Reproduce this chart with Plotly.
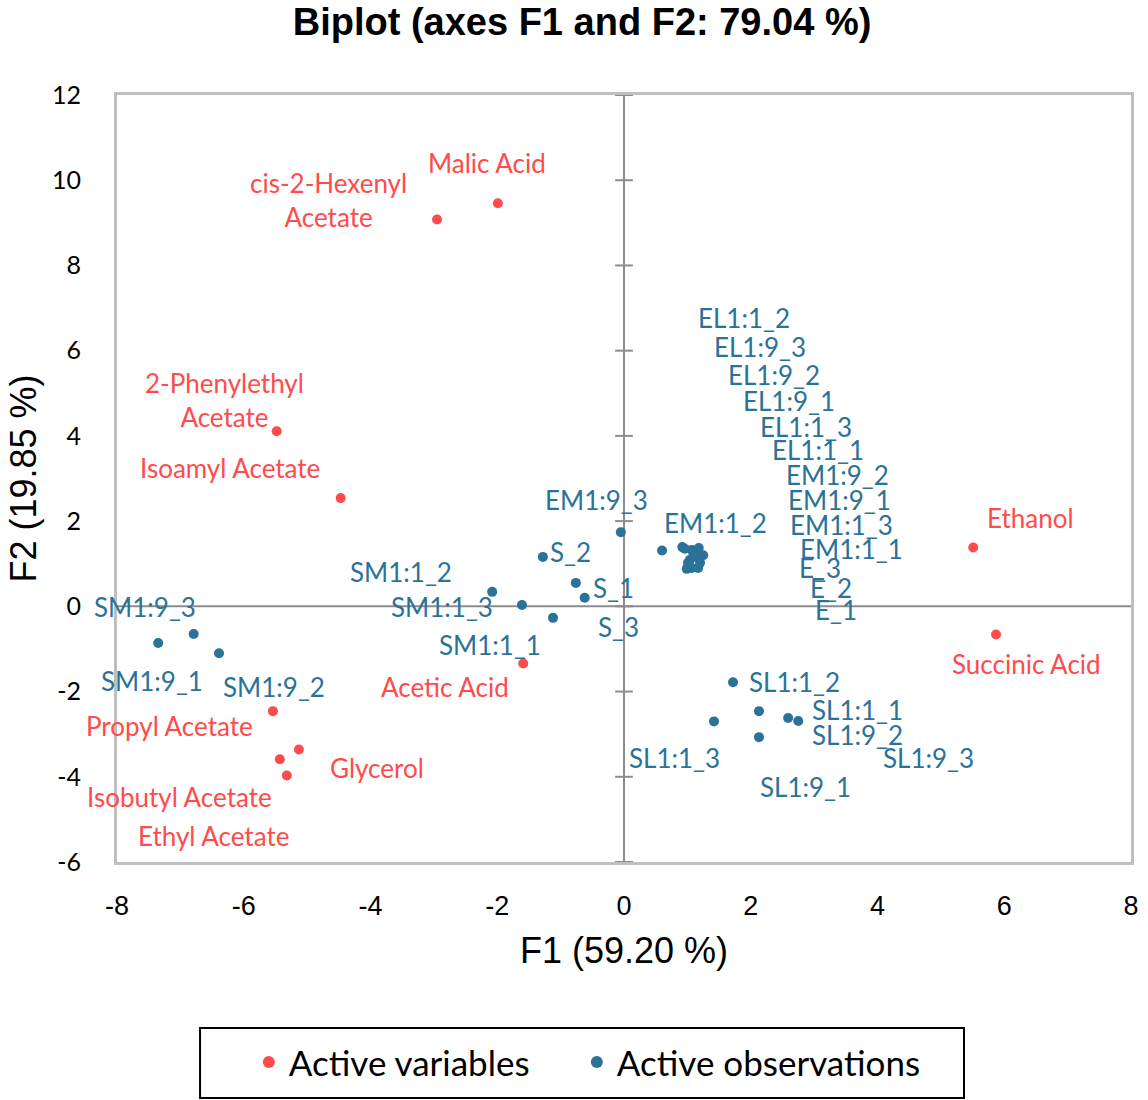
import plotly.graph_objects as go

# Active variables (red)
var_names = ["Malic Acid", "cis-2-Hexenyl<br>Acetate", "2-Phenylethyl<br>Acetate",
             "Isoamyl Acetate", "Ethanol", "Succinic Acid", "Acetic Acid",
             "Propyl Acetate", "Glycerol", "Isobutyl Acetate", "Ethyl Acetate"]
var_f1 = [-1.99, -2.95, -5.48, -4.47, 5.51, 5.87, -1.59, -5.54, -5.13, -5.43, -5.32]
var_f2 = [9.46, 9.08, 4.11, 2.54, 1.38, -0.66, -1.34, -2.46, -3.36, -3.59, -3.97]

# Active observations (blue)
obs_names = ["SM1:9_3", "SM1:9_1", "SM1:9_2", "SM1:1_2", "SM1:1_3", "SM1:1_1",
             "S_2", "S_1", "S_3", "EM1:9_3", "EM1:1_2",
             "EL1:1_2", "EL1:9_3", "EL1:9_2", "EL1:9_1", "EL1:1_3", "EL1:1_1",
             "EM1:9_2", "EM1:9_1", "EM1:1_3", "EM1:1_1", "E_3", "E_2", "E_1",
             "SL1:1_2", "SL1:1_1", "SL1:9_2", "SL1:9_3", "SL1:1_3", "SL1:9_1"]
obs_f1 = [-6.79, -7.35, -6.39, -2.08, -1.61, -1.12,
          -1.28, -0.76, -0.62, -0.05, 0.60,
          0.92, 1.18, 0.96, 1.07, 1.15, 1.25,
          1.09, 1.04, 1.01, 1.20, 1.07, 1.17, 0.99,
          1.72, 2.59, 2.75, 2.13, 1.42, 2.13]
obs_f2 = [-0.65, -0.86, -1.10, 0.34, 0.03, -0.27,
          1.16, 0.55, 0.20, 1.74, 1.31,
          1.39, 1.37, 1.35, 1.32, 1.23, 1.20,
          1.16, 1.09, 1.02, 1.02, 0.90, 0.90, 0.88,
          -1.78, -2.62, -2.69, -2.46, -2.70, -3.07]

y_ticks = [-6, -4, -2, 0, 2, 4, 6, 8, 10, 12]
x_ticks = [-8, -6, -4, -2, 0, 2, 4, 6, 8]

# label placement offsets in pixels (dx right, dy up) relative to each point
var_label_shift = [(-11, 40), (-109, 19), (-52, 31), (-111, 30), (57, 30), (30, -30),
                   (-78, -24), (-103, -15), (78, -18), (-100, -38), (-73, -60)]
obs_label_shift = [(-49, 27), (-6, -38), (55, -34), (-91, 20), (-80, -2), (-63, -27),
                   (28, 5), (38, -5), (34, -29), (-24, 32), (53, 28),
                   (62, 229), (61, 201), (89, 174), (97, 149), (109, 127), (115, 105),
                   (144, 82), (150, 60), (153, 38), (151, 14), (128, 0), (133, -20), (149, -41),
                   (61, 0), (69, 8), (59, -14), (170, -47), (-39, -37), (47, -50)]

RED = "#FF4B4B"
BLUE = "#2B7298"
LABEL_FONT = "Lato, Calibri, sans-serif"
SANS_FONT = "Liberation Sans, Arial, sans-serif"

fig = go.Figure()
fig.add_trace(go.Scatter(x=var_f1, y=var_f2, mode="markers", name="Active variables",
                         marker=dict(color=RED, size=10), hoverinfo="skip",
                         legend="legend"))
fig.add_trace(go.Scatter(x=obs_f1, y=obs_f2, mode="markers", name="Active observations",
                         marker=dict(color=BLUE, size=10), hoverinfo="skip",
                         legend="legend2"))

annotations = []
for names, xs, ys, shifts, col in ((var_names, var_f1, var_f2, var_label_shift, RED),
                                   (obs_names, obs_f1, obs_f2, obs_label_shift, BLUE)):
    for n, x, y, (dx, dy) in zip(names, xs, ys, shifts):
        annotations.append(dict(x=x, y=y, xref="x", yref="y", text=n, showarrow=False,
                                xshift=dx, yshift=dy, align="center",
                                font=dict(family=LABEL_FONT, size=26, color=col)))

# zero axes with their tick crosses
shapes = [
    dict(type="line", xref="x", yref="paper", x0=0, x1=0, y0=0, y1=1,
         line=dict(color="#8C8C8C", width=2), layer="below"),
    dict(type="line", xref="paper", yref="y", x0=0, x1=1, y0=0, y1=0,
         line=dict(color="#8C8C8C", width=2), layer="below"),
]
for t in y_ticks:
    shapes.append(dict(type="line", xref="x", yref="y", x0=-0.14, x1=0.14, y0=t, y1=t,
                       line=dict(color="#8C8C8C", width=2), layer="below"))
# legend frame
shapes.append(dict(type="rect", xref="paper", yref="paper", x0=0.0819, x1=0.8353,
                   y0=-0.3077, y1=-0.2164, line=dict(color="black", width=2)))

legend_style = dict(orientation="h", xanchor="left", y=-0.261, yanchor="middle",
                    font=dict(family=LABEL_FONT, size=35, color="black"),
                    bgcolor="rgba(0,0,0,0)", borderwidth=0, itemsizing="constant")

fig.update_layout(
    width=1148, height=1100,
    margin=dict(l=117, r=17, t=95, b=238, autoexpand=False),
    paper_bgcolor="white", plot_bgcolor="white",
    title=dict(text="<b>Biplot (axes F1 and F2: 79.04 %)</b>", x=0.507, xref="container",
               xanchor="center", y=0.98, yanchor="middle", yref="container",
               font=dict(family=SANS_FONT, size=38, color="black")),
    xaxis=dict(range=[-8, 8], tickvals=x_ticks, ticktext=[str(v) for v in x_ticks],
               showgrid=False, zeroline=False, automargin=False,
               showline=True, mirror=True, linecolor="#BFBFBF", linewidth=3,
               ticks="", ticklabelstandoff=18,
               tickfont=dict(family=SANS_FONT, size=27, color="black"),
               title=dict(text="F1 (59.20 %)", standoff=18,
                          font=dict(family=SANS_FONT, size=36, color="black"))),
    yaxis=dict(range=[-6, 12], tickvals=y_ticks, ticktext=[str(v) for v in y_ticks],
               showgrid=False, zeroline=False, automargin=False,
               showline=True, mirror=True, linecolor="#BFBFBF", linewidth=3,
               ticks="", ticklabelstandoff=28,
               tickfont=dict(family=LABEL_FONT, size=25, color="black"),
               title=dict(text="F2 (19.85 %)", standoff=5,
                          font=dict(family=SANS_FONT, size=36, color="black"))),
    showlegend=True,
    legend=dict(x=0.130, **legend_style),
    legend2=dict(x=0.4535, **legend_style),
    annotations=annotations,
    shapes=shapes,
)

fig.write_html("out.html")
